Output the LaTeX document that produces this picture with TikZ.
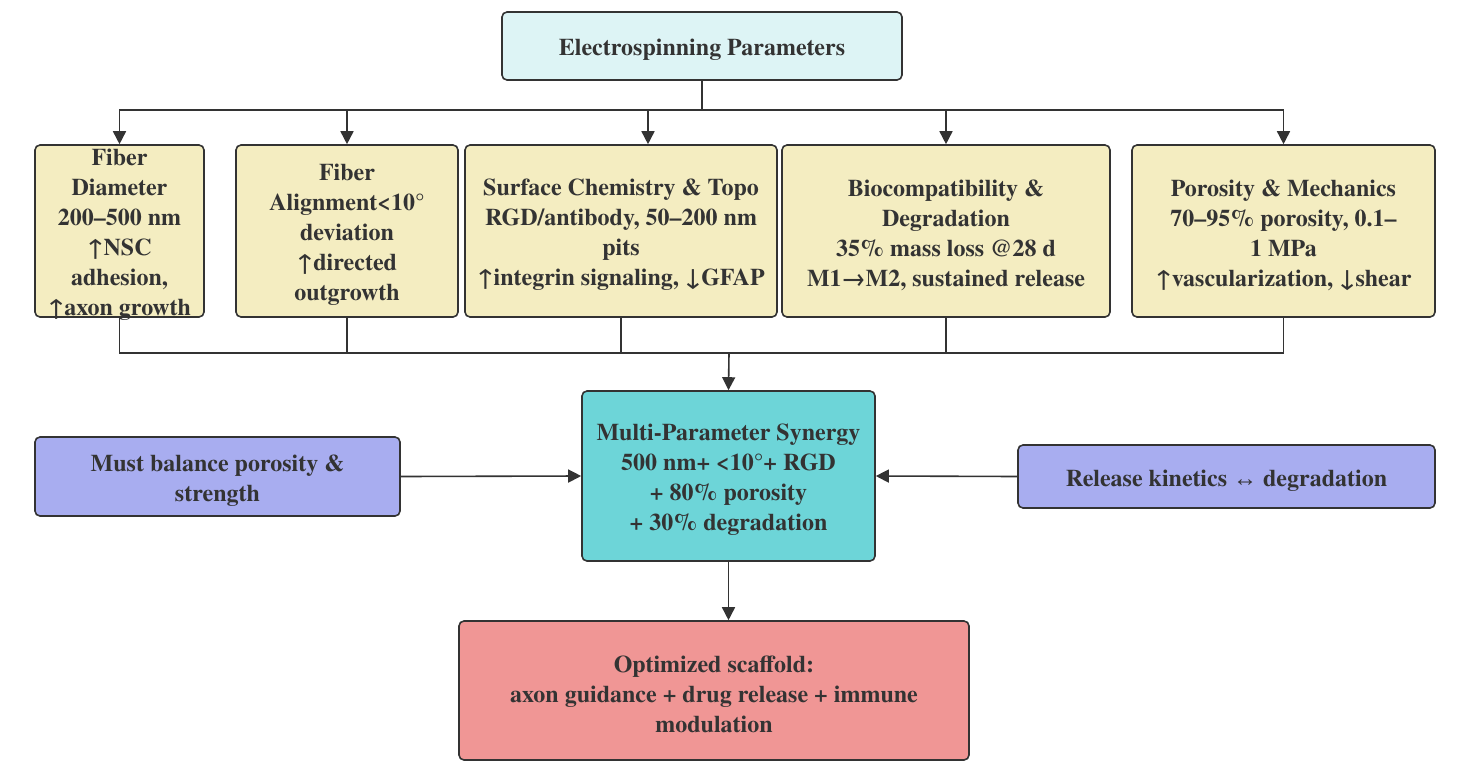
\documentclass[tikz,border=0pt]{standalone}
\usepackage{fontspec}
\setmainfont{TeX Gyre Termes}
\newfontfamily\arrfont{Liberation Serif}
\usetikzlibrary{arrows.meta}
\definecolor{edgecol}{HTML}{333333}
\definecolor{topfill}{HTML}{DDF4F5}
\definecolor{yelfill}{HTML}{F4EDC1}
\definecolor{cyanfill}{HTML}{6DD5D8}
\definecolor{lavfill}{HTML}{A8ADF0}
\definecolor{redfill}{HTML}{F09695}
\tikzset{
  box/.style={draw=edgecol, line width=1.6pt, rounded corners=5pt, inner sep=0pt},
  txt/.style={align=center, font=\fontsize{24}{30}\selectfont\bfseries, text=edgecol, inner sep=0pt},
  conn/.style={draw=edgecol, line width=1.6pt},
  arr/.style={conn, -{Triangle[length=13pt,width=13pt]}}
}
\begin{document}
\begin{tikzpicture}[x=1pt,y=-1pt]
\useasboundingbox (0,0) rectangle (1470,774);
\node[box, fill=topfill, minimum width=400pt, minimum height=68pt] (top) at (702,46) {};
\node[box, fill=yelfill, minimum width=169pt, minimum height=172pt] (b1) at (119.5,231) {};
\node[box, fill=yelfill, minimum width=222pt, minimum height=172pt] (b2) at (347,231) {};
\node[box, fill=yelfill, minimum width=312pt, minimum height=172pt] (b3) at (621,231) {};
\node[box, fill=yelfill, minimum width=328pt, minimum height=172pt] (b4) at (946,231) {};
\node[box, fill=yelfill, minimum width=303pt, minimum height=172pt] (b5) at (1283.5,231) {};
\node[box, fill=cyanfill, minimum width=293pt, minimum height=170pt] (multi) at (728.5,476) {};
\node[box, fill=lavfill, minimum width=365pt, minimum height=79pt] (left) at (217.5,476.5) {};
\node[box, fill=lavfill, minimum width=417pt, minimum height=63pt] (right) at (1226.5,476.5) {};
\node[box, fill=redfill, minimum width=510pt, minimum height=139pt] (out) at (714,690.5) {};
\node[txt] (topt) at ([yshift=-4pt]top.center) {Electrospinning Parameters};
\node[txt] (b1t) at ([yshift=-4pt]b1.center) {Fiber\\Diameter\\200–500 nm\\↑NSC\\adhesion,\\↑axon growth};
\node[txt] (b2t) at ([yshift=-4pt]b2.center) {Fiber\\Alignment<10°\\deviation\\↑directed\\outgrowth};
\node[txt] (b3t) at ([yshift=-4pt]b3.center) {Surface Chemistry \& Topo\\RGD/antibody, 50–200 nm\\pits\\↑integrin signaling, ↓GFAP};
\node[txt] (b4t) at ([yshift=-4pt]b4.center) {Biocompatibility \&\\Degradation\\35\% mass loss @28 d\\M1→M2, sustained release};
\node[txt] (b5t) at ([yshift=-4pt]b5.center) {Porosity \& Mechanics\\70–95\% porosity, 0.1–\\1 MPa\\↑vascularization, ↓shear};
\node[txt] (multit) at ([yshift=-4pt]multi.center) {Multi-Parameter Synergy\\500 nm+ <10°+ RGD\\+ 80\% porosity\\+ 30\% degradation};
\node[txt] (leftt) at ([yshift=-4pt]left.center) {Must balance porosity \&\\strength};
\node[txt] (rightt) at ([yshift=-4pt]right.center) {Release kinetics {\arrfont ↔} degradation};
\node[txt] (outt) at ([yshift=-4pt]out.center) {Optimized scaffold:\\axon guidance + drug release + immune\\modulation};
\coordinate (bus) at (702,110);
\coordinate (join) at (729,353);
\draw[conn] (top.south) -- (bus);
\draw[arr] (bus) -| (b1.north);
\draw[arr] (bus) -| (b2.north);
\draw[arr] (bus) -| ([xshift=27pt]b3.north);
\draw[arr] (bus) -| (b4.north);
\draw[arr] (bus) -| (b5.north);
\draw[conn] (b1.south) |- (join);
\draw[conn] (b2.south) |- (join);
\draw[conn] (b3.south) |- (join);
\draw[conn] (b4.south) |- (join);
\draw[conn] (b5.south) |- (join);
\draw[arr] (join) -- (multi.north);
\draw[arr] (left.east) -- (multi.west);
\draw[arr] (right.west) -- (multi.east);
\draw[arr] (multi.south) -- (multi.south |- out.north);
\end{tikzpicture}
\end{document}
